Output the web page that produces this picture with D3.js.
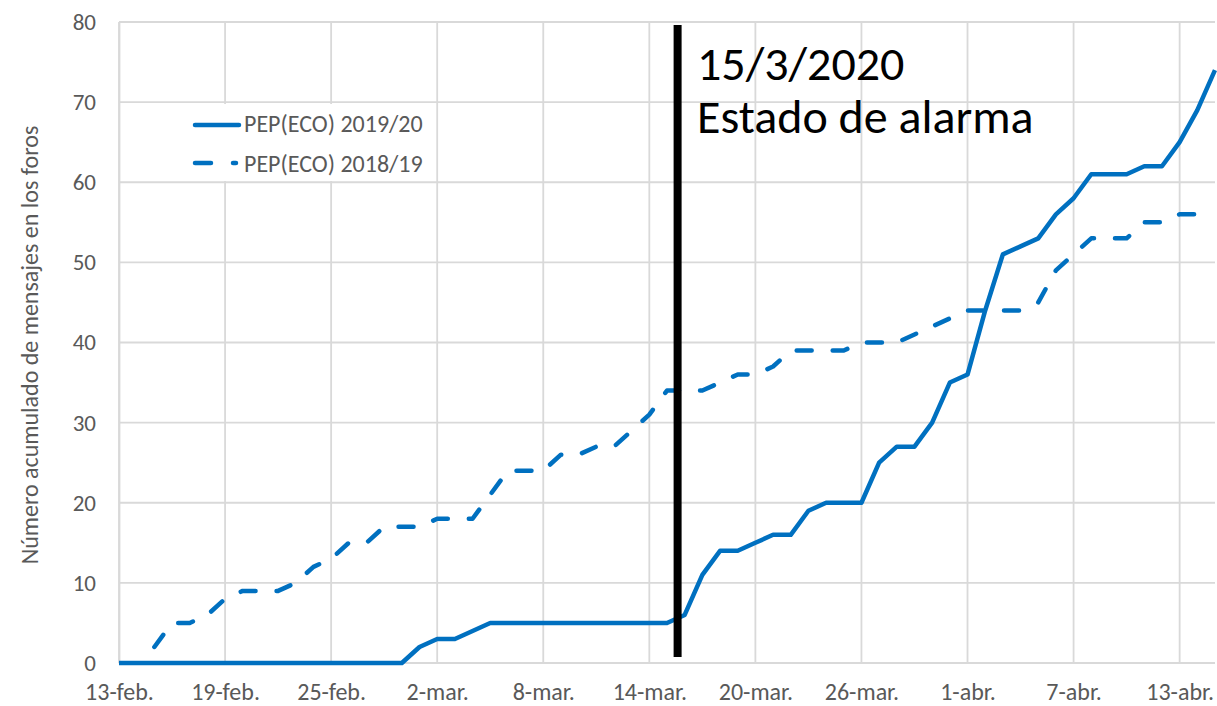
<!DOCTYPE html>
<html>
<head>
<meta charset="utf-8">
<script src="https://cdn.jsdelivr.net/npm/d3@7"></script>
<style>
  body { margin:0; background:#fff; }
  svg text { font-family: Carlito, Calibri, "Noto Sans", sans-serif; }
</style>
</head>
<body>
<script>
// day index 0 = 13-feb, 62 = 15-abr
var tickDays   = [0, 6, 12, 18, 24, 30, 36, 42, 48, 54, 60];
var tickLabels = ["13-feb.","19-feb.","25-feb.","2-mar.","8-mar.","14-mar.","20-mar.","26-mar.","1-abr.","7-abr.","13-abr."];
var yTicks     = [0,10,20,30,40,50,60,70,80];

// PEP(ECO) 2019/20, days 0..62
var serie2020 = [0,0,0,0,0,0,0,0,0,0,0,0,0,0,0,0,0,
                 2,3,3,4,5,5,5,5,5,5,5,5,5,5,5,
                 6,11,14,14,15,16,16,19,20,20,20,25,27,27,30,35,36,44,
                 51,52,53,56,58,61,61,61,62,62,65,69,74];
// PEP(ECO) 2018/19, days 0..62 (no data for the first two days)
var serie2019 = [null,null,2,5,5,6,8,9,9,9,10,12,13,15,15,17,17,17,18,18,18,
                 21,24,24,24,26,26,27,27,29,31,34,34,34,35,36,36,37,39,39,39,39,
                 40,40,40,41,42,43,44,44,44,44,45,49,51,53,53,53,55,55,56,56,56];

var seriesNames = ["PEP(ECO) 2019/20", "PEP(ECO) 2018/19"];
var alarmDay = 31.6;
var alarmText = ["15/3/2020", "Estado de alarma"];

var W = 1217, H = 706;
var m = {left:119, right:2, top:22, bottom:43};

var svg = d3.select("body").append("svg").attr("width", W).attr("height", H);

var x = d3.scaleLinear().domain([0, 62]).range([m.left, W - m.right]);
var y = d3.scaleLinear().domain([0, 80]).range([H - m.bottom, m.top]);

var grid = "#d9d9d9", txt = "#595959", blue = "#0070c0";

// gridlines
svg.append("g").selectAll("line").data(yTicks).enter().append("line")
   .attr("x1", m.left).attr("x2", W - m.right)
   .attr("y1", function(d){return y(d);}).attr("y2", function(d){return y(d);})
   .attr("stroke", grid).attr("stroke-width", 1.8);
svg.append("g").selectAll("line").data(tickDays).enter().append("line")
   .attr("x1", function(d){return x(d);}).attr("x2", function(d){return x(d);})
   .attr("y1", y(0)).attr("y2", y(80))
   .attr("stroke", grid).attr("stroke-width", 1.8);

// axes
var yAxis = d3.axisLeft(y).tickValues(yTicks).tickSize(0).tickPadding(23);
var gy = svg.append("g").attr("transform", "translate(" + m.left + ",0)").call(yAxis);
gy.select(".domain").attr("stroke", grid).attr("stroke-width", 1.8);
gy.selectAll("text").attr("fill", txt).style("font-size", "23px");

var xAxis = d3.axisBottom(x).tickValues(tickDays).tickSize(0)
              .tickFormat(function(d, i){return tickLabels[i];});
var gx = svg.append("g").attr("transform", "translate(0," + y(0) + ")").call(xAxis);
gx.select(".domain").remove();
gx.selectAll("text").attr("fill", txt).style("font-size", "24px")
  .attr("dy", null).attr("y", 37);

svg.append("text")
   .attr("transform", "translate(38,345) rotate(-90)")
   .attr("text-anchor", "middle").attr("fill", txt).style("font-size", "24px")
   .text("Número acumulado de mensajes en los foros");

// legend box
svg.append("rect").attr("x", 186).attr("y", 104).attr("width", 250).attr("height", 77).attr("fill", "#fff");

// lines
var line = d3.line()
   .defined(function(d){return d != null;})
   .x(function(d, i){return x(i);})
   .y(function(d){return y(d);});

svg.append("path").datum(serie2019).attr("d", line)
   .attr("fill", "none").attr("stroke", blue).attr("stroke-width", 4.5)
   .attr("stroke-dasharray", "15,21").attr("stroke-linecap", "round").attr("stroke-linejoin", "round");
svg.append("path").datum(serie2020).attr("d", line)
   .attr("fill", "none").attr("stroke", blue).attr("stroke-width", 4.5)
   .attr("stroke-linejoin", "round");

// legend
var lg = svg.append("g");
lg.append("line").attr("x1", 195).attr("x2", 239).attr("y1", 125).attr("y2", 125)
  .attr("stroke", blue).attr("stroke-width", 4.5).attr("stroke-linecap", "round");
lg.append("line").attr("x1", 195).attr("x2", 236).attr("y1", 163).attr("y2", 163)
  .attr("stroke", blue).attr("stroke-width", 4.5).attr("stroke-linecap", "round")
  .attr("stroke-dasharray", "16,22");
lg.selectAll("text").data(seriesNames).enter().append("text")
  .attr("x", 244).attr("y", function(d, i){return 132 + i*40;})
  .attr("fill", txt).style("font-size", "24px").text(function(d){return d;});

// estado de alarma marker
svg.append("line").attr("x1", x(alarmDay)).attr("x2", x(alarmDay)).attr("y1", 25).attr("y2", 657)
   .attr("stroke", "#000").attr("stroke-width", 8);
svg.selectAll(".alarm").data(alarmText).enter().append("text")
   .attr("x", 697).attr("y", function(d, i){return 80 + i*53;})
   .attr("fill", "#000").style("font-size", "48px").text(function(d){return d;});
</script>
</body>
</html>
